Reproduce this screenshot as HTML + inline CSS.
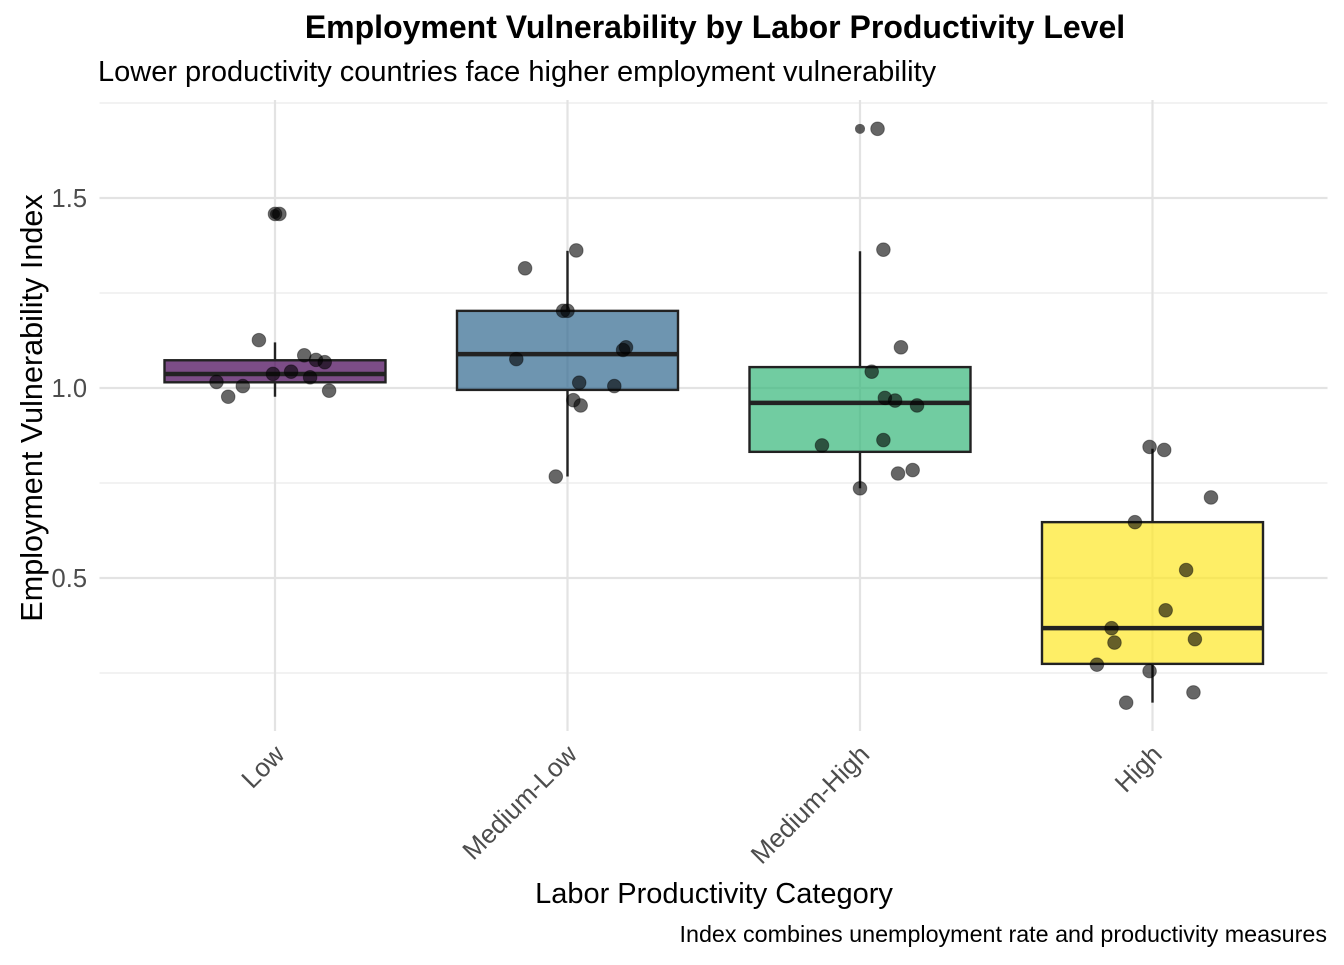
<!DOCTYPE html>
<html><head><meta charset="utf-8">
<style>
html,body{margin:0;padding:0;background:#fff;}
svg text{font-family:"Liberation Sans",Arial,sans-serif;}
</style></head>
<body>
<svg id="chart" width="1344" height="960" viewBox="0 0 1344 960" xmlns="http://www.w3.org/2000/svg">
<rect width="1344" height="960" fill="#fff"/>
<text x="715" y="38" text-anchor="middle" font-size="32" font-weight="bold" fill="#000">Employment Vulnerability by Labor Productivity Level</text>
<text x="98" y="81" font-size="29" fill="#000">Lower productivity countries face higher employment vulnerability</text>
<g id="grid"></g>
<g id="boxes"></g>
<g id="points"></g>
<g id="axes"></g>
<text transform="translate(42,408) rotate(-90)" text-anchor="middle" font-size="30.6" fill="#000">Employment Vulnerability Index</text>
<text x="714" y="903" text-anchor="middle" font-size="29" fill="#000">Labor Productivity Category</text>
<text x="1327" y="942" text-anchor="end" font-size="23.3" fill="#000">Index combines unemployment rate and productivity measures</text>
</svg>
<script>
const categories = ["Low","Medium-Low","Medium-High","High"];
const colors = ["#440154","#31688e","#35b779","#fde725"];
const q1 = [1.015, 0.995, 0.832, 0.274];
const medians = [1.037, 1.089, 0.961, 0.368];
const q3 = [1.073, 1.203, 1.055, 0.647];
const whiskerLow = [0.977, 0.767, 0.736, 0.172];
const whiskerHigh = [1.12, 1.361, 1.36, 0.84];
const outlierCat = [0, 2];
const outlierVals = [1.458, 1.682];
const yTicks = [0.5, 1.0, 1.5];
const yTickLabels = ["0.5","1.0","1.5"];
const yMinor = [0.25, 0.75, 1.25, 1.75];
// jittered points: category index, jitter offset (category units), value
const ptCat = [0,0,0,0,0,0,0,0,0,0,0,0,0, 1,1,1,1,1,1,1,1,1,1,1,1, 2,2,2,2,2,2,2,2,2,2,2,2, 3,3,3,3,3,3,3,3,3,3,3,3,3];
const ptJit = [0.0,0.015,-0.055,0.1,0.14,0.17,-0.007,0.055,0.12,-0.2,-0.11,-0.16,0.185,
  0.03,-0.145,-0.015,0.0,0.2,0.19,-0.175,0.04,0.16,0.02,0.045,-0.04,
  0.06,0.08,0.14,0.04,0.085,0.12,0.195,-0.13,0.08,0.13,0.18,0.0,
  -0.01,0.04,0.2,-0.06,0.115,0.045,-0.14,-0.13,0.145,-0.19,-0.01,0.14,-0.09];
const ptVals = [1.458,1.458,1.126,1.086,1.074,1.068,1.037,1.043,1.028,1.016,1.005,0.977,0.993,
  1.362,1.315,1.203,1.203,1.107,1.100,1.076,1.014,1.005,0.968,0.954,0.767,
  1.682,1.364,1.107,1.043,0.974,0.967,0.954,0.849,0.863,0.775,0.784,0.736,
  0.845,0.837,0.712,0.647,0.521,0.415,0.368,0.330,0.339,0.272,0.255,0.199,0.172];

const NS = "http://www.w3.org/2000/svg";
const x0 = 275, band = 292.5, boxW = 221;
const xs = i => x0 + i * band;
const ys = v => 768 - v * 380;
const plotL = 99.5, plotR = 1327.5, plotT = 100, plotB = 731;
function mk(tag, attrs, parent){ const e = document.createElementNS(NS, tag); for (const k in attrs) e.setAttribute(k, attrs[k]); parent.appendChild(e); return e; }
const grid = document.getElementById("grid"), boxes = document.getElementById("boxes"), pts = document.getElementById("points"), axes = document.getElementById("axes");

yMinor.forEach(v => {
  const l = mk("line", {x1:plotL, x2:plotR, y1:ys(v), y2:ys(v), stroke:"#ebebeb", "stroke-width":1.2}, grid);
  
  
});
yTicks.forEach((v,i) => {
  const l = mk("line", {x1:plotL, x2:plotR, y1:ys(v), y2:ys(v), stroke:"#e3e3e3", "stroke-width":2.2}, grid);
  
  
  const t = mk("text", {x:87, y:ys(v)+9, "text-anchor":"end", "font-size":25.5, fill:"#4d4d4d"}, axes);
  t.textContent = yTickLabels[i];
  
  
});
categories.forEach((c,i) => {
  const l = mk("line", {x1:xs(i), x2:xs(i), y1:plotT, y2:plotB, stroke:"#e3e3e3", "stroke-width":2.2}, grid);
  
  
  const t = mk("text", {transform:`translate(${xs(i)+11},${756}) rotate(-45)`, "text-anchor":"end", "font-size":26, fill:"#4d4d4d"}, axes);
  t.textContent = c;
  
  
});
categories.forEach((c,i) => {
  const g = mk("g", {}, boxes);
  
  
  const w1 = mk("line", {x1:xs(i), x2:xs(i), y1:ys(q3[i]), y2:ys(whiskerHigh[i]), stroke:"#222", "stroke-width":2.4}, g);
  
  
  const w2 = mk("line", {x1:xs(i), x2:xs(i), y1:ys(q1[i]), y2:ys(whiskerLow[i]), stroke:"#222", "stroke-width":2.4}, g);
  
  
  const r = mk("rect", {x:xs(i)-boxW/2, y:ys(q3[i]), width:boxW, height:ys(q1[i])-ys(q3[i]), fill:colors[i], "fill-opacity":0.7, stroke:"#222", "stroke-width":2.4}, g);
  
  
  const m = mk("line", {x1:xs(i)-boxW/2, x2:xs(i)+boxW/2, y1:ys(medians[i]), y2:ys(medians[i]), stroke:"#222", "stroke-width":4.5}, g);
  
  
});
outlierVals.forEach((v,k) => {
  const c = mk("circle", {cx:xs(outlierCat[k]), cy:ys(v), r:5, fill:"#333", "fill-opacity":0.8}, pts);
  
  
});
ptVals.forEach((v,k) => {
  const c = mk("circle", {cx:xs(ptCat[k]) + ptJit[k]*band, cy:ys(v), r:6.8, fill:"#000", "fill-opacity":0.6, stroke:"#000", "stroke-opacity":0.4, "stroke-width":1}, pts);
  
  
});
</script>
</body></html>
